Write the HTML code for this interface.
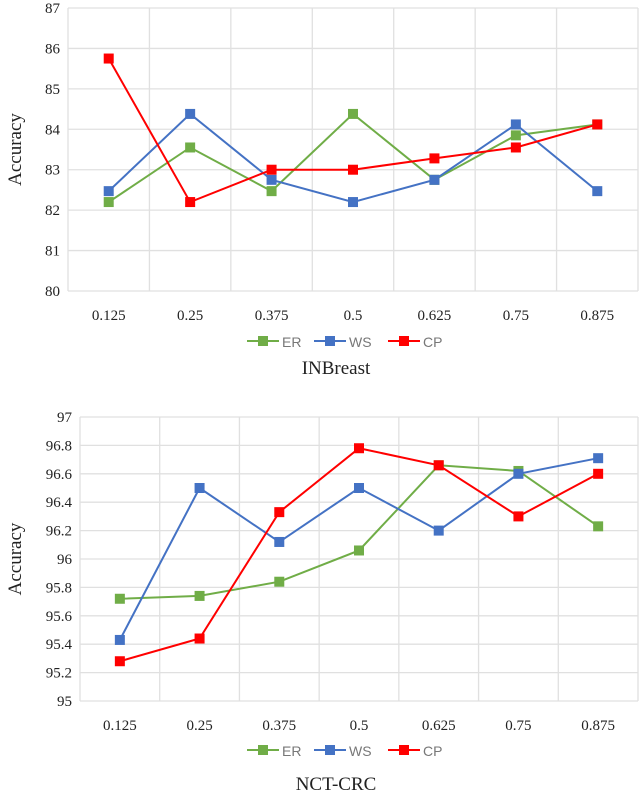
<!DOCTYPE html>
<html><head><meta charset="utf-8"><style>
body{margin:0;background:#fff;width:640px;height:797px;overflow:hidden}
svg{display:block}
text{font-family:"Liberation Serif",serif;fill:#222}
</style></head><body>
<svg id="chart" width="640" height="797" xmlns="http://www.w3.org/2000/svg"></svg>
<script>
const categories=["0.125","0.25","0.375","0.5","0.625","0.75","0.875"];
const seriesNames=["ER","WS","CP"];
const topER=[82.2,83.55,82.47,84.38,82.75,83.85,84.12];
const topWS=[82.47,84.38,82.75,82.2,82.75,84.12,82.47];
const topCP=[85.75,82.2,83.0,83.0,83.28,83.55,84.12];
const topTicks=[80,81,82,83,84,85,86,87];
const botER=[95.72,95.74,95.84,96.06,96.66,96.62,96.23];
const botWS=[95.43,96.5,96.12,96.5,96.2,96.6,96.71];
const botCP=[95.28,95.44,96.33,96.78,96.66,96.3,96.6];
const botTicks=[95,95.2,95.4,95.6,95.8,96,96.2,96.4,96.6,96.8,97];
const topTickLabels=topTicks.map(String);
const botTickLabels=botTicks.map(v=>String(v));
const colors=["#70ad47","#4472c4","#ff0000"];
const NS="http://www.w3.org/2000/svg";
const svg=document.getElementById('chart');
function mk(tag,attrs,parent){const e=document.createElementNS(NS,tag);for(const k in attrs)e.setAttribute(k,attrs[k]);(parent||svg).appendChild(e);return e;}
function drawChart(cfg){
  const g=mk('g',{});
  
  
  const {x0,x1,y0,y1,min,max}=cfg;
  const n=categories.length,step=(x1-x0)/n;
  const xs=i=>x0+step*(i+0.5);
  const ys=v=>y0-(v-min)/(max-min)*(y0-y1);
  cfg.ticks.forEach((t,i)=>{
    const y=ys(t);
    const l=mk('line',{x1:x0,x2:x1,y1:y,y2:y,stroke:'#e0e0e0','stroke-width':1.3},g);
    
    
    const tx=mk('text',{x:x0-8,y:y+5,'text-anchor':'end','font-size':15},g);
    
    
    tx.textContent=cfg.tickLabels[i];
  });
  for(let i=0;i<=n;i++){
    const x=x0+step*i;
    const l=mk('line',{x1:x,x2:x,y1:y1,y2:y0,stroke:'#e0e0e0','stroke-width':1.3},g);
    
    
  }
  categories.forEach((c,i)=>{
    const tx=mk('text',{x:xs(i),y:y0+29,'text-anchor':'middle','font-size':15},g);
    
    
    tx.textContent=c;
  });
  cfg.series.forEach((s,si)=>{
    const pts=s.map((v,i)=>xs(i)+','+ys(v)).join(' ');
    const pl=mk('polyline',{points:pts,fill:'none',stroke:colors[si],'stroke-width':2},g);
    
    
    s.forEach((v,i)=>{
      const r=mk('rect',{x:xs(i)-5,y:ys(v)-5,width:10,height:10,fill:colors[si]},g);
      
      
    });
  });
  const yt=mk('text',{x:0,y:0,'text-anchor':'middle','font-size':19,transform:`translate(21,${(y0+y1)/2}) rotate(-90)`},g);
  
  
  yt.textContent='Accuracy';
  const lx=[247,314,388];
  seriesNames.forEach((nm,si)=>{
    const lg=mk('g',{},g);
    
    
    mk('line',{x1:lx[si],x2:lx[si]+32,y1:cfg.legY,y2:cfg.legY,stroke:colors[si],'stroke-width':2},lg);
    mk('rect',{x:lx[si]+11,y:cfg.legY-5,width:10,height:10,fill:colors[si]},lg);
    const t=mk('text',{x:lx[si]+35,y:cfg.legY+6,'font-size':14,style:'font-family:"Liberation Sans",sans-serif;fill:#777'},lg);
    t.textContent=nm;
  });
  const tt=mk('text',{x:336,y:cfg.titleY,'text-anchor':'middle','font-size':19},g);
  
  
  tt.textContent=cfg.title;
}
drawChart({name:'inbreast-chart',x0:68,x1:638,y0:291,y1:8,min:80,max:87,ticks:topTicks,tickLabels:topTickLabels,series:[topER,topWS,topCP],legY:341,titleY:374,title:'INBreast'});
drawChart({name:'nct-crc-chart',x0:80,x1:638,y0:701,y1:417,min:95,max:97,ticks:botTicks,tickLabels:botTickLabels,series:[botER,botWS,botCP],legY:750,titleY:790,title:'NCT-CRC'});
</script>
</body></html>
